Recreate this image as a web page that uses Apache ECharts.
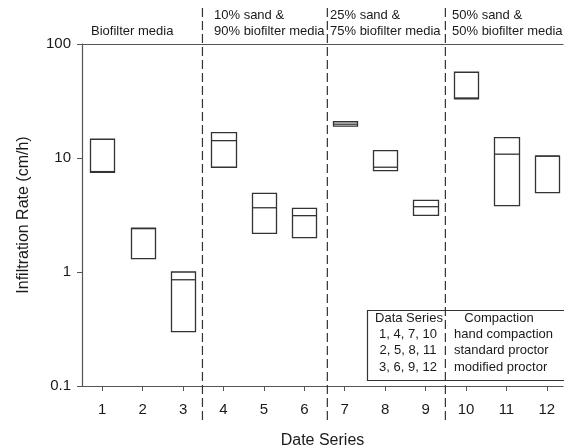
<!DOCTYPE html>
<html>
<head>
<meta charset="utf-8">
<script src="https://cdn.jsdelivr.net/npm/echarts@6/dist/echarts.min.js"></script>
<style>html,body{margin:0;padding:0;background:#fff}#c{width:564px;height:446px}</style>
</head>
<body>
<div id="c"></div>
<script>
// ---- data ----
const seriesIds = [1, 2, 3, 4, 5, 6, 7, 8, 9, 10, 11, 12];
const lowVals    = [7.5, 1.31, 0.30, 8.3, 2.18, 2.0, 19.0, 7.75, 3.14, 33.1, 3.82, 4.97];
const medianVals = [7.6, 2.40, 0.855, 14.2, 3.66, 3.12, 19.8, 8.3, 3.74, 33.6, 10.8, 10.4];
const highVals   = [14.6, 2.43, 1.0, 16.7, 4.9, 3.62, 20.8, 11.6, 4.25, 56.5, 15.1, 10.4];
const separators = [3.48, 6.57, 9.49];
const yTicks = [0.1, 1, 10, 100];
const sectionLines = [["Biofilter media"], ["10% sand &", "90% biofilter media"], ["25% sand &", "75% biofilter media"], ["50% sand &", "50% biofilter media"]];
const tableHeader = ["Data Series", "Compaction"];
const tableRows = [["1, 4, 7, 10", "hand compaction"], ["2, 5, 8, 11", "standard proctor"], ["3, 6, 9, 12", "modified proctor"]];

const FONT = 'Liberation Sans, Arial, sans-serif';
const TXT = '#1a1a1a';
const LINE = '#333';

const chart = echarts.init(document.getElementById('c'), null, {renderer: 'canvas'});

const boxData = seriesIds.map((id, i) => [id, lowVals[i], medianVals[i], highVals[i]]);

const graphics = [];
const secX = [91, 214, 330, 452];
sectionLines.forEach((lines, i) => {
  lines.forEach((t, j) => {
    const y = lines.length === 1 ? 33 : 17 + j * 16;
    graphics.push({type: 'text', left: secX[i], top: y - 8, style: {text: t, font: '13px ' + FONT, fill: TXT}});
  });
});
// table
graphics.push({type: 'rect', shape: {x: 367.5, y: 310.5, width: 200, height: 70}, style: {fill: null, stroke: LINE, lineWidth: 1.2}});
graphics.push({type: 'text', x: 409, y: 318, style: {text: tableHeader[0], font: '13px ' + FONT, fill: TXT, align: 'center', verticalAlign: 'middle'}});
graphics.push({type: 'text', x: 499, y: 318, style: {text: tableHeader[1], font: '13px ' + FONT, fill: TXT, align: 'center', verticalAlign: 'middle'}});
tableRows.forEach((r, i) => {
  const y = 334.5 + i * 16.3;
  graphics.push({type: 'text', x: 408, y: y, style: {text: r[0], font: '13px ' + FONT, fill: TXT, align: 'center', verticalAlign: 'middle'}});
  graphics.push({type: 'text', x: 454, y: y, style: {text: r[1], font: '13px ' + FONT, fill: TXT, align: 'left', verticalAlign: 'middle'}});
});

chart.setOption({
  animation: false,
  backgroundColor: '#fff',
  grid: {left: 82, right: 1, top: 44, bottom: 60, outerBoundsMode: 'none', containLabel: false},
  xAxis: [{
    type: 'value', min: 0.5, max: 12.4, position: 'bottom',
    name: 'Date Series', nameLocation: 'middle', nameGap: 47,
    nameTextStyle: {fontFamily: FONT, fontSize: 16, color: TXT},
    splitLine: {show: false},
    axisLine: {show: true, lineStyle: {color: '#555', width: 1.2}},
    axisTick: {show: true, length: 5, customValues: seriesIds, lineStyle: {color: '#555'}},
    axisLabel: {customValues: seriesIds, margin: 16, fontFamily: FONT, fontSize: 15, color: TXT}
  }, {
    type: 'value', min: 0.5, max: 12.4, position: 'top',
    axisLine: {show: true, onZero: false, lineStyle: {color: '#555', width: 1.2}},
    axisTick: {show: false}, axisLabel: {show: false}, splitLine: {show: false}
  }],
  yAxis: {
    type: 'log', logBase: 10, min: 0.1, max: 100,
    name: 'Infiltration Rate (cm/h)', nameLocation: 'middle', nameGap: 50,
    nameTextStyle: {fontFamily: FONT, fontSize: 16, color: TXT},
    splitLine: {show: false},
    axisLine: {show: true, lineStyle: {color: '#555', width: 1.2}},
    axisTick: {show: true, length: 5, lineStyle: {color: '#555'}},
    minorTick: {show: false},
    axisLabel: {margin: 11, fontFamily: FONT, fontSize: 15, color: TXT,
      formatter: v => String(v)}
  },
  graphic: graphics,
  series: [{
    type: 'custom',
    clip: false,
    data: separators.map(s => [s]),
    renderItem: (params, api) => {
      const x = api.coord([api.value(0), 1])[0];
      const yTop = api.coord([1, yTicks[yTicks.length - 1]])[1] - 36;
      const yBot = api.coord([1, yTicks[0]])[1] + 34;
      return {type: 'line', shape: {x1: x, y1: yTop, x2: x, y2: yBot},
        style: {stroke: LINE, lineWidth: 1.2, lineDash: [9, 4]}};
    },
    z: 1
  }, {
    type: 'custom',
    data: boxData,
    renderItem: (params, api) => {
      const x = api.value(0);
      const p1 = api.coord([x - 0.3, api.value(3)]);
      const p2 = api.coord([x + 0.3, api.value(1)]);
      const pm = api.coord([x, api.value(2)]);
      const l = Math.round(p1[0]) + 0.5, r = Math.round(p2[0]) + 0.5;
      return {type: 'group', children: [
        {type: 'rect', shape: {x: l, y: p1[1], width: r - l, height: p2[1] - p1[1]},
          style: {fill: '#fff', stroke: LINE, lineWidth: 1.3}},
        {type: 'line', shape: {x1: l, y1: pm[1], x2: r, y2: pm[1]},
          style: {stroke: LINE, lineWidth: 1.3}}
      ]};
    },
    z: 2
  }]
});
</script>
</body>
</html>
